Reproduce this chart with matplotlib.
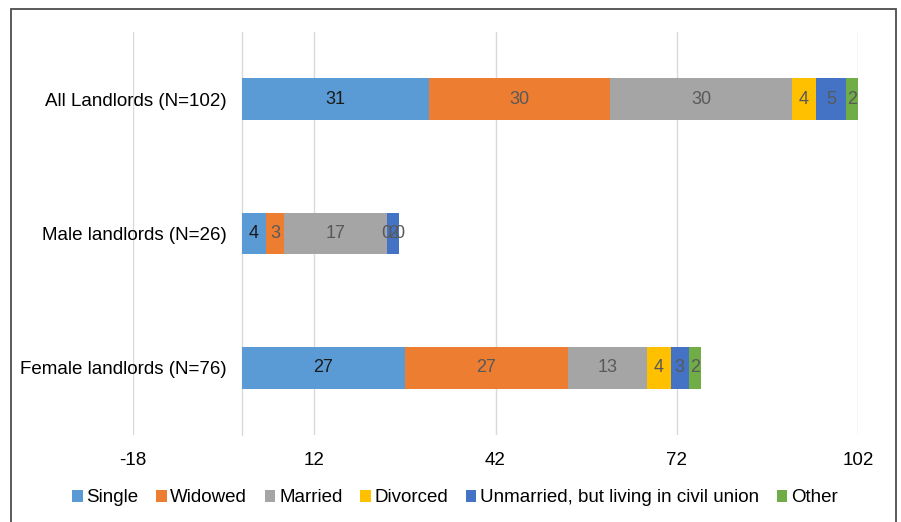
import matplotlib.pyplot as plt
from matplotlib.patches import Rectangle

plt.rcParams['font.family'] = ['Liberation Sans', 'DejaVu Sans']

# landlord groups, top to bottom
groups = ['All Landlords (N=102)', 'Male landlords (N=26)', 'Female landlords (N=76)']

# marital status counts per group
single = [31, 4, 27]
widowed = [30, 3, 27]
married = [30, 17, 13]
divorced = [4, 0, 4]
unmarried = [5, 2, 3]
other = [2, 0, 2]

series = [
    ('Single', single, '#5B9BD5', '#1a1a1a'),
    ('Widowed', widowed, '#ED7D31', '#595959'),
    ('Married', married, '#A5A5A5', '#595959'),
    ('Divorced', divorced, '#FFC000', '#595959'),
    ('Unmarried, but living in civil union', unmarried, '#4472C4', '#595959'),
    ('Other', other, '#70AD47', '#595959'),
]

xticks = [-18, 12, 42, 72, 102]

fig = plt.figure(figsize=(9.01, 5.22), dpi=100)
ax = fig.add_axes([0.1476, 0.1667, 0.8047, 0.772])

ypos = [2, 1, 0]
left = [0, 0, 0]
for name, vals, col, tcol in series:
    bars = ax.barh(ypos, vals, left=left, height=0.31, color=col, label=name, zorder=3)
    ax.bar_label(bars, labels=[str(v) for v in vals], label_type='center',
                 color=tcol, fontsize=13, zorder=4)
    left = [a + b for a, b in zip(left, vals)]

ax.set_xlim(-18, 102)
ax.set_ylim(-0.5, 2.5)
ax.set_xticks(xticks)
ax.set_xticklabels([str(t) for t in xticks])
ax.set_yticks(ypos)
ax.set_yticklabels(groups)
ax.grid(axis='x', color='#d9d9d9', linewidth=1, zorder=0)
ax.tick_params(axis='both', length=0, labelsize=13.5, colors='#000000')
ax.tick_params(axis='x', pad=12)
ax.tick_params(axis='y', pad=11)

for s in ['top', 'right', 'bottom']:
    ax.spines[s].set_visible(False)
ax.spines['left'].set_position(('data', 0))
ax.spines['left'].set_color('#d9d9d9')
ax.spines['left'].set_linewidth(1)

ax.legend(loc='center', bbox_to_anchor=(0.505, 0.046), bbox_transform=fig.transFigure,
          ncol=6, frameon=False, fontsize=13.5, handlelength=0.55, handleheight=0.55,
          handletextpad=0.2, columnspacing=0.95)

# outer chart frame
fig.patches.append(Rectangle((11 / 901, -0.05), 885 / 901, 1.05 - 9 / 522,
                             transform=fig.transFigure, fill=False,
                             edgecolor='#4d4d4d', linewidth=1.3))

fig.savefig('out.png', dpi=100)
